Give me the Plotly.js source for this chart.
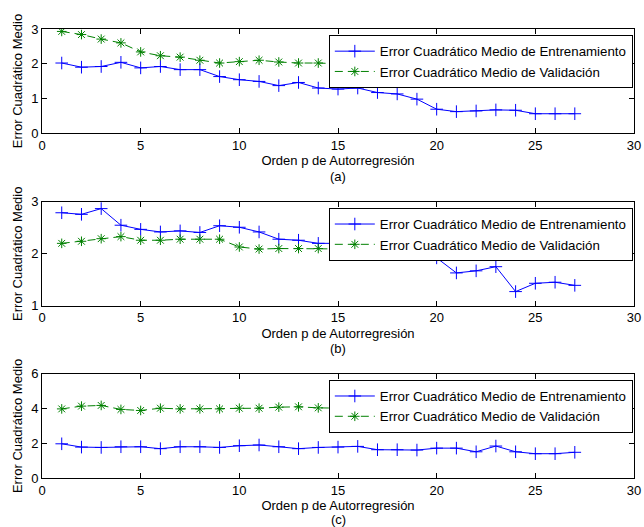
<!DOCTYPE html>
<html><head><meta charset="utf-8">
<script src="https://cdn.plot.ly/plotly-3.0.1.min.js"></script>
<style>body{margin:0;background:#fff}#c{width:644px;height:527px}</style>
</head><body><div id="c"></div>
<script>
const orden = [1,2,3,4,5,6,7,8,9,10,11,12,13,14,15,16,17,18,19,20,21,22,23,24,25,26,27];
const trainA = [2.02,1.90,1.92,2.04,1.88,1.92,1.83,1.83,1.63,1.54,1.49,1.37,1.46,1.30,1.27,1.30,1.17,1.13,0.98,0.69,0.62,0.64,0.67,0.66,0.56,0.56,0.56];
const valA   = [2.93,2.84,2.71,2.60,2.34,2.23,2.19,2.10,2.02,2.06,2.10,2.05,2.02,2.02,2.00,2.02,2.00,1.98,1.95,1.71,1.92,1.95,1.95,1.96,1.95,1.95,1.96];
const trainB = [2.79,2.76,2.87,2.55,2.47,2.42,2.44,2.41,2.54,2.51,2.42,2.28,2.26,2.20,2.20,2.19,2.13,2.16,2.20,1.92,1.63,1.67,1.75,1.27,1.43,1.45,1.39];
const valB   = [2.20,2.24,2.29,2.33,2.26,2.26,2.28,2.28,2.28,2.13,2.09,2.10,2.10,2.10,2.09,2.09,2.04,2.07,2.15,2.25,2.28,2.30,2.32,2.28,2.04,2.08,2.12];
const trainC = [1.97,1.78,1.76,1.80,1.80,1.69,1.80,1.80,1.76,1.86,1.90,1.80,1.69,1.76,1.78,1.82,1.63,1.63,1.61,1.72,1.72,1.51,1.84,1.51,1.40,1.40,1.48];
const valC   = [3.98,4.14,4.18,3.95,3.89,4.02,3.98,3.98,3.98,4.02,4.02,4.08,4.10,4.04,4.02,4.00,4.00,3.98,3.96,3.95,3.60,3.60,3.50,3.80,3.80,3.82,3.80];
const nameTrain = "Error Cuadrático Medio de Entrenamiento";
const nameVal = "Error Cuadrático Medio de Validación";
const xTitle = "Orden p de Autorregresión";
const yTitle = "Error Cuadrático Medio";
const subLabels = ["(a)","(b)","(c)"];

const FONT = "Arial, 'Liberation Sans', sans-serif";
const blue = "#0000ff", green = "#008000";
const sets = [[trainA,valA],[trainB,valB],[trainC,valC]];
const traces = [];
sets.forEach((s,i)=>{
  const ax = i===0 ? "" : String(i+1);
  const lg = i===0 ? "legend" : "legend"+(i+1);
  traces.push({x:orden,y:s[0],type:"scatter",mode:"lines+markers",name:nameTrain,
    xaxis:"x"+ax,yaxis:"y"+ax,legend:lg,
    line:{color:blue,width:1},marker:{symbol:"cross-thin-open",size:9,line:{color:blue,width:1}}});
  traces.push({x:orden,y:s[1],type:"scatter",mode:"lines+markers",name:nameVal,
    xaxis:"x"+ax,yaxis:"y"+ax,legend:lg,
    line:{color:green,width:1,dash:"8px,5px"},marker:{symbol:"asterisk-open",size:8,line:{color:green,width:1}}});
});

const domains = [[0.768,1],[0.384,0.615],[0,0.232]];
const ranges = [[0,3],[1,3],[0,6]];
const dticks = [1,1,2];
const subShift = [-43,-43,-41];
const titleStandoff = [4,4,2];
const layout = {
  width:644,height:527,
  margin:{l:42,r:10,t:29,b:49},
  paper_bgcolor:"#fff",plot_bgcolor:"#fff",
  font:{family:FONT,size:13,color:"#000"},
  showlegend:true,
  annotations:[]
};
for(let i=0;i<3;i++){
  const k = i===0 ? "" : String(i+1);
  layout["xaxis"+k] = {domain:[0,1],range:[0,30],dtick:5,tick0:0,anchor:"y"+k,
    showgrid:false,zeroline:false,showline:true,mirror:"allticks",linecolor:"#000",linewidth:1,
    ticks:"inside",ticklen:5,tickcolor:"#000",tickfont:{size:13},
    title:{text:xTitle,font:{size:13},standoff:titleStandoff[i]}};
  layout["yaxis"+k] = {domain:domains[i],range:ranges[i],dtick:dticks[i],tick0:0,anchor:"x"+k,
    showgrid:false,zeroline:false,showline:true,mirror:"allticks",linecolor:"#000",linewidth:1,
    ticks:"inside",ticklen:5,tickcolor:"#000",tickfont:{size:13},
    title:{text:yTitle,font:{size:13},standoff:5}};
  const lk = i===0 ? "legend" : "legend"+(i+1);
  layout[lk] = {x:0.998,xanchor:"right",y:domains[i][1]-0.0134,yanchor:"top",
    bgcolor:"#fff",bordercolor:"#000",borderwidth:1,font:{size:13.3},
    tracegroupgap:0,itemwidth:40};
  layout.annotations.push({text:subLabels[i],xref:"paper",yref:"paper",x:0.5,y:domains[i][0],
    xanchor:"center",yanchor:"middle",yshift:subShift[i],showarrow:false,font:{size:13},borderpad:0});
}
Plotly.newPlot("c",traces,layout,{displayModeBar:false,staticPlot:true});
</script></body></html>
